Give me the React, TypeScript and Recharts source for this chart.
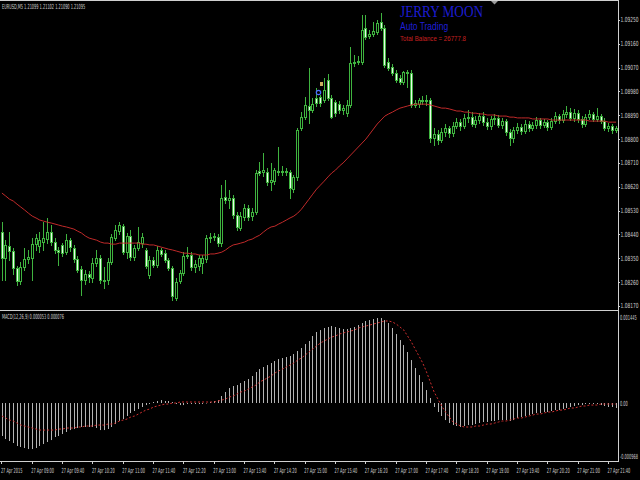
import { ComposedChart, Bar, Line, XAxis, YAxis } from 'recharts';

// EURUSD M5, 27 Apr 2015, 163 bars
const open = [
  1.08449, 1.08350, 1.08396, 1.08377, 1.08313, 1.08263, 1.08316, 1.08347, 1.08350, 1.08403,
  1.08396, 1.08411, 1.08422, 1.08449, 1.08411, 1.08381, 1.08400, 1.08373, 1.08418, 1.08388,
  1.08347, 1.08309, 1.08267, 1.08290, 1.08275, 1.08331, 1.08350, 1.08267, 1.08267, 1.08335,
  1.08426, 1.08452, 1.08471, 1.08373, 1.08434, 1.08354, 1.08388, 1.08407, 1.08381, 1.08286,
  1.08343, 1.08324, 1.08381, 1.08369, 1.08343, 1.08313, 1.08199, 1.08263, 1.08294, 1.08358,
  1.08362, 1.08316, 1.08320, 1.08331, 1.08347, 1.08426, 1.08430, 1.08430, 1.08407, 1.08581,
  1.08570, 1.08577, 1.08513, 1.08464, 1.08505, 1.08539, 1.08509, 1.08524, 1.08679, 1.08675,
  1.08675, 1.08638, 1.08641, 1.08679, 1.08675, 1.08679, 1.08675, 1.08611, 1.08657, 1.08842,
  1.08883, 1.08925, 1.08910, 1.08955, 1.08959, 1.08948, 1.09023, 1.08955, 1.08940, 1.08932,
  1.08910, 1.08898, 1.08929, 1.09087, 1.09091, 1.09091, 1.09220, 1.09190, 1.09197, 1.09205,
  1.09242, 1.09220, 1.09091, 1.09072, 1.09050, 1.09031, 1.09016, 1.09053, 1.09050, 1.08929,
  1.08932, 1.08948, 1.08944, 1.08948, 1.08804, 1.08819, 1.08796, 1.08827, 1.08842, 1.08823,
  1.08849, 1.08864, 1.08849, 1.08880, 1.08883, 1.08857, 1.08872, 1.08887, 1.08864, 1.08849,
  1.08876, 1.08880, 1.08853, 1.08868, 1.08827, 1.08804, 1.08834, 1.08846, 1.08830, 1.08857,
  1.08842, 1.08853, 1.08872, 1.08853, 1.08864, 1.08846, 1.08868, 1.08887, 1.08872, 1.08895,
  1.08902, 1.08880, 1.08898, 1.08876, 1.08857, 1.08883, 1.08895, 1.08876, 1.08887, 1.08868,
  1.08842, 1.08849, 1.08834,
];

const close = [
  1.08350, 1.08400, 1.08377, 1.08313, 1.08263, 1.08316, 1.08347, 1.08354, 1.08403, 1.08426,
  1.08418, 1.08426, 1.08449, 1.08411, 1.08381, 1.08373, 1.08369, 1.08418, 1.08392, 1.08347,
  1.08305, 1.08267, 1.08290, 1.08278, 1.08331, 1.08350, 1.08267, 1.08263, 1.08335, 1.08430,
  1.08456, 1.08475, 1.08373, 1.08434, 1.08354, 1.08388, 1.08411, 1.08430, 1.08320, 1.08343,
  1.08324, 1.08381, 1.08366, 1.08343, 1.08313, 1.08207, 1.08260, 1.08294, 1.08358, 1.08362,
  1.08316, 1.08328, 1.08350, 1.08350, 1.08426, 1.08430, 1.08434, 1.08407, 1.08577, 1.08570,
  1.08577, 1.08513, 1.08468, 1.08509, 1.08539, 1.08505, 1.08524, 1.08672, 1.08672, 1.08683,
  1.08638, 1.08645, 1.08683, 1.08675, 1.08679, 1.08675, 1.08615, 1.08657, 1.08834, 1.08883,
  1.08929, 1.08910, 1.08932, 1.08936, 1.08936, 1.08985, 1.08955, 1.08883, 1.08898, 1.08910,
  1.08917, 1.08929, 1.09087, 1.09091, 1.09095, 1.09212, 1.09186, 1.09197, 1.09208, 1.09239,
  1.09220, 1.09080, 1.09069, 1.09050, 1.09023, 1.09016, 1.09053, 1.09050, 1.08929, 1.08936,
  1.08948, 1.08944, 1.08948, 1.08804, 1.08819, 1.08796, 1.08827, 1.08842, 1.08823, 1.08849,
  1.08864, 1.08849, 1.08880, 1.08883, 1.08857, 1.08872, 1.08887, 1.08864, 1.08849, 1.08876,
  1.08880, 1.08853, 1.08868, 1.08827, 1.08804, 1.08834, 1.08846, 1.08830, 1.08857, 1.08842,
  1.08853, 1.08872, 1.08853, 1.08864, 1.08846, 1.08868, 1.08887, 1.08872, 1.08895, 1.08902,
  1.08880, 1.08898, 1.08876, 1.08857, 1.08883, 1.08895, 1.08876, 1.08887, 1.08868, 1.08842,
  1.08849, 1.08834, 1.08842,
];

const high = [
  1.08486, 1.08418, 1.08449, 1.08388, 1.08320, 1.08335, 1.08388, 1.08381, 1.08426, 1.08441,
  1.08449, 1.08486, 1.08502, 1.08475, 1.08426, 1.08392, 1.08407, 1.08441, 1.08426, 1.08400,
  1.08358, 1.08320, 1.08305, 1.08301, 1.08350, 1.08381, 1.08362, 1.08316, 1.08350, 1.08441,
  1.08475, 1.08486, 1.08479, 1.08445, 1.08456, 1.08400, 1.08468, 1.08445, 1.08388, 1.08358,
  1.08354, 1.08396, 1.08388, 1.08381, 1.08350, 1.08320, 1.08275, 1.08305, 1.08373, 1.08392,
  1.08373, 1.08343, 1.08362, 1.08362, 1.08437, 1.08445, 1.08445, 1.08441, 1.08626, 1.08645,
  1.08607, 1.08588, 1.08524, 1.08524, 1.08554, 1.08551, 1.08539, 1.08683, 1.08713, 1.08747,
  1.08691, 1.08710, 1.08691, 1.08770, 1.08698, 1.08691, 1.08683, 1.08664, 1.08842, 1.08902,
  1.08959, 1.09069, 1.08955, 1.08993, 1.08967, 1.09031, 1.09046, 1.08967, 1.08948, 1.08944,
  1.08929, 1.08948, 1.09148, 1.09118, 1.09114, 1.09269, 1.09269, 1.09212, 1.09242, 1.09250,
  1.09276, 1.09231, 1.09106, 1.09084, 1.09061, 1.09042, 1.09057, 1.09061, 1.09061, 1.08948,
  1.08955, 1.08963, 1.08967, 1.08955, 1.08842, 1.08834, 1.08842, 1.08857, 1.08849, 1.08864,
  1.08880, 1.08876, 1.08895, 1.08910, 1.08902, 1.08887, 1.08898, 1.08902, 1.08880, 1.08887,
  1.08895, 1.08891, 1.08880, 1.08876, 1.08838, 1.08846, 1.08861, 1.08857, 1.08872, 1.08868,
  1.08864, 1.08883, 1.08880, 1.08876, 1.08872, 1.08880, 1.08902, 1.08895, 1.08910, 1.08925,
  1.08917, 1.08914, 1.08910, 1.08887, 1.08895, 1.08910, 1.08902, 1.08917, 1.08895, 1.08880,
  1.08861, 1.08857, 1.08849,
];

const low = [
  1.08267, 1.08267, 1.08343, 1.08290, 1.08248, 1.08252, 1.08305, 1.08331, 1.08267, 1.08381,
  1.08373, 1.08381, 1.08407, 1.08400, 1.08369, 1.08324, 1.08358, 1.08366, 1.08377, 1.08335,
  1.08297, 1.08210, 1.08252, 1.08260, 1.08260, 1.08320, 1.08256, 1.08237, 1.08252, 1.08328,
  1.08418, 1.08441, 1.08366, 1.08350, 1.08343, 1.08343, 1.08381, 1.08392, 1.08313, 1.08275,
  1.08316, 1.08316, 1.08358, 1.08335, 1.08305, 1.08192, 1.08192, 1.08256, 1.08286, 1.08350,
  1.08305, 1.08297, 1.08305, 1.08294, 1.08335, 1.08411, 1.08418, 1.08396, 1.08396, 1.08558,
  1.08539, 1.08502, 1.08456, 1.08456, 1.08494, 1.08494, 1.08494, 1.08517, 1.08664, 1.08660,
  1.08626, 1.08607, 1.08630, 1.08664, 1.08664, 1.08664, 1.08577, 1.08600, 1.08645, 1.08834,
  1.08876, 1.08861, 1.08902, 1.08925, 1.08925, 1.08940, 1.08948, 1.08880, 1.08887, 1.08898,
  1.08895, 1.08887, 1.08921, 1.09076, 1.09084, 1.09084, 1.09178, 1.09182, 1.09190, 1.09197,
  1.09212, 1.09072, 1.09061, 1.09042, 1.09016, 1.09008, 1.09008, 1.08997, 1.08921, 1.08921,
  1.08921, 1.08932, 1.08929, 1.08789, 1.08777, 1.08781, 1.08789, 1.08811, 1.08808, 1.08811,
  1.08842, 1.08834, 1.08842, 1.08864, 1.08849, 1.08846, 1.08861, 1.08853, 1.08838, 1.08838,
  1.08857, 1.08846, 1.08842, 1.08815, 1.08777, 1.08789, 1.08823, 1.08819, 1.08823, 1.08830,
  1.08834, 1.08842, 1.08842, 1.08846, 1.08834, 1.08838, 1.08861, 1.08861, 1.08864, 1.08883,
  1.08872, 1.08868, 1.08864, 1.08846, 1.08849, 1.08876, 1.08868, 1.08868, 1.08861, 1.08834,
  1.08830, 1.08823, 1.08827,
];

// red moving average on the price window
const ma = [
  1.08596, 1.08585, 1.08573, 1.08566, 1.08554, 1.08543, 1.08532, 1.08520, 1.08509, 1.08502,
  1.08494, 1.08490, 1.08486, 1.08483, 1.08479, 1.08475, 1.08471, 1.08468, 1.08464, 1.08460,
  1.08452, 1.08445, 1.08434, 1.08426, 1.08422, 1.08418, 1.08411, 1.08407, 1.08407, 1.08403,
  1.08403, 1.08407, 1.08407, 1.08407, 1.08407, 1.08407, 1.08407, 1.08403, 1.08403, 1.08400,
  1.08400, 1.08396, 1.08392, 1.08388, 1.08384, 1.08381, 1.08377, 1.08373, 1.08369, 1.08369,
  1.08366, 1.08366, 1.08362, 1.08362, 1.08362, 1.08366, 1.08366, 1.08369, 1.08373, 1.08381,
  1.08392, 1.08400, 1.08403, 1.08407, 1.08411, 1.08418, 1.08422, 1.08430, 1.08437, 1.08449,
  1.08460, 1.08468, 1.08471, 1.08479, 1.08486, 1.08494, 1.08502, 1.08509, 1.08520, 1.08535,
  1.08554, 1.08573, 1.08592, 1.08611, 1.08626, 1.08641, 1.08657, 1.08672, 1.08683, 1.08698,
  1.08710, 1.08725, 1.08740, 1.08755, 1.08770, 1.08785, 1.08800, 1.08819, 1.08838, 1.08857,
  1.08872, 1.08887, 1.08895, 1.08902, 1.08910, 1.08917, 1.08921, 1.08925, 1.08929, 1.08932,
  1.08932, 1.08932, 1.08932, 1.08929, 1.08925, 1.08921, 1.08917, 1.08917, 1.08914, 1.08910,
  1.08906, 1.08906, 1.08902, 1.08902, 1.08898, 1.08898, 1.08895, 1.08895, 1.08891, 1.08891,
  1.08891, 1.08887, 1.08887, 1.08887, 1.08883, 1.08883, 1.08880, 1.08880, 1.08880, 1.08880,
  1.08876, 1.08876, 1.08876, 1.08876, 1.08876, 1.08872, 1.08872, 1.08872, 1.08872, 1.08872,
  1.08872, 1.08872, 1.08872, 1.08872, 1.08872, 1.08868, 1.08868, 1.08868, 1.08868, 1.08868,
  1.08864, 1.08864, 1.08864,
];

const macdHist = [
  -0.000554, -0.000605, -0.000638, -0.000672, -0.000722, -0.000739, -0.000756, -0.000773, -0.000773, -0.000756,
  -0.000722, -0.000689, -0.000655, -0.000622, -0.000571, -0.000554, -0.000521, -0.000487, -0.000454, -0.000437,
  -0.000420, -0.000403, -0.000403, -0.000403, -0.000403, -0.000420, -0.000454, -0.000454, -0.000437, -0.000403,
  -0.000353, -0.000302, -0.000269, -0.000218, -0.000168, -0.000134, -0.000101, -0.000067, -0.000034, -0.000017,
  0.000017, 0.000034, 0.000050, 0.000034, 0.000034, 0.000017, -0.000017, -0.000034, -0.000034, -0.000017,
  -0.000017, -0.000017, -0.000017, -0.000017, -0.000008, 0.000017, 0.000034, 0.000050, 0.000118, 0.000185,
  0.000252, 0.000286, 0.000302, 0.000336, 0.000370, 0.000403, 0.000454, 0.000521, 0.000571, 0.000605,
  0.000638, 0.000672, 0.000706, 0.000739, 0.000756, 0.000773, 0.000790, 0.000823, 0.000874, 0.000924,
  0.000991, 0.001042, 0.001126, 0.001193, 0.001226, 0.001260, 0.001277, 0.001294, 0.001277, 0.001260,
  0.001243, 0.001243, 0.001260, 0.001277, 0.001310, 0.001344, 0.001378, 0.001394, 0.001411, 0.001428,
  0.001428, 0.001394, 0.001344, 0.001260, 0.001159, 0.001058, 0.000974, 0.000857, 0.000722, 0.000588,
  0.000470, 0.000353, 0.000218, 0.000084, -0.000067, -0.000151, -0.000218, -0.000286, -0.000336, -0.000370,
  -0.000386, -0.000403, -0.000386, -0.000370, -0.000370, -0.000353, -0.000336, -0.000319, -0.000319, -0.000302,
  -0.000302, -0.000286, -0.000286, -0.000286, -0.000302, -0.000286, -0.000252, -0.000235, -0.000218, -0.000202,
  -0.000185, -0.000168, -0.000168, -0.000151, -0.000151, -0.000134, -0.000118, -0.000118, -0.000101, -0.000084,
  -0.000067, -0.000050, -0.000034, -0.000034, -0.000017, -0.000017, -0.000017, -0.000017, -0.000034, -0.000050,
  -0.000067, -0.000067, -0.000084,
];

const macdSignal = [
  -0.000218, -0.000252, -0.000286, -0.000302, -0.000336, -0.000370, -0.000386, -0.000403, -0.000420, -0.000437,
  -0.000454, -0.000454, -0.000454, -0.000454, -0.000454, -0.000437, -0.000437, -0.000420, -0.000420, -0.000420,
  -0.000403, -0.000403, -0.000386, -0.000386, -0.000386, -0.000370, -0.000370, -0.000370, -0.000353, -0.000353,
  -0.000336, -0.000302, -0.000286, -0.000269, -0.000235, -0.000218, -0.000185, -0.000151, -0.000118, -0.000101,
  -0.000067, -0.000050, -0.000034, -0.000017, -0.000017, 0.000000, 0.000000, 0.000017, 0.000017, 0.000017,
  0.000017, 0.000017, 0.000017, 0.000017, 0.000017, 0.000017, 0.000017, 0.000034, 0.000050, 0.000067,
  0.000101, 0.000118, 0.000151, 0.000185, 0.000202, 0.000235, 0.000269, 0.000302, 0.000353, 0.000386,
  0.000420, 0.000454, 0.000504, 0.000538, 0.000571, 0.000605, 0.000638, 0.000672, 0.000722, 0.000756,
  0.000806, 0.000857, 0.000907, 0.000958, 0.001008, 0.001042, 0.001075, 0.001109, 0.001126, 0.001159,
  0.001176, 0.001193, 0.001210, 0.001226, 0.001260, 0.001277, 0.001294, 0.001310, 0.001327, 0.001344,
  0.001361, 0.001378, 0.001378, 0.001361, 0.001327, 0.001277, 0.001226, 0.001126, 0.001025, 0.000907,
  0.000790, 0.000672, 0.000521, 0.000353, 0.000185, 0.000067, -0.000050, -0.000151, -0.000235, -0.000319,
  -0.000353, -0.000386, -0.000403, -0.000403, -0.000403, -0.000386, -0.000386, -0.000370, -0.000353, -0.000353,
  -0.000336, -0.000319, -0.000302, -0.000302, -0.000286, -0.000269, -0.000252, -0.000252, -0.000235, -0.000218,
  -0.000202, -0.000185, -0.000185, -0.000168, -0.000151, -0.000151, -0.000134, -0.000118, -0.000118, -0.000101,
  -0.000084, -0.000084, -0.000067, -0.000050, -0.000050, -0.000034, -0.000034, -0.000034, -0.000017, -0.000017,
  -0.000017, -0.000017, -0.000017,
];

// one label every 8 bars (40 minutes)
const timeLabels = [
  '27 Apr 2015', '27 Apr 09:00', '27 Apr 09:40', '27 Apr 10:20', '27 Apr 11:00', '27 Apr 11:40',
  '27 Apr 12:20', '27 Apr 13:00', '27 Apr 13:40', '27 Apr 14:20', '27 Apr 15:00', '27 Apr 15:40',
  '27 Apr 16:20', '27 Apr 17:00', '27 Apr 17:40', '27 Apr 18:20', '27 Apr 19:00', '27 Apr 19:40',
  '27 Apr 20:20', '27 Apr 21:00', '27 Apr 21:40',
];
const priceTicks = [
  1.0925, 1.0916, 1.0907, 1.0898, 1.0889, 1.088, 1.0871, 1.0862, 1.0853, 1.0844, 1.0835, 1.0826, 1.0817,
];
const macdTicks = [0.001445, 0, -0.000968];

const data = open.map((o, i) => ({
  i,
  open: o,
  high: high[i],
  low: low[i],
  close: close[i],
  range: [low[i], high[i]],
  ma: ma[i],
  hist: macdHist[i],
  signal: macdSignal[i],
}));

const WICK = '#3fb33f';
const BEAR = '#e8fbe8';
const AXIS = '#d0d0d0';
const TINY = "'DejaVu Sans', sans-serif";

// tiny MT4-style text: normal glyph height, squeezed horizontally
const Squeezed = ({ x, y, sx, size = 7, fill = AXIS, family = TINY, children }: any) => (
  <g transform={`translate(${x},${y}) scale(${sx},1)`}>
    <text x={0} y={0} fontSize={size} fontFamily={family} fill={fill}>
      {children}
    </text>
  </g>
);

const Candle = (props: any) => {
  const { x, y, width, height, index } = props;
  const d = props.payload && props.payload.open !== undefined ? props.payload : data[index];
  const top = Math.min(y, y + height);
  const h = Math.abs(height);
  const span = d.high - d.low;
  const toPx = (v: number) => (span > 0 ? top + ((d.high - v) / span) * h : top);
  const cx = Math.floor(x + width / 2);
  const oy = Math.round(toPx(d.open));
  const cy = Math.round(toPx(d.close));
  const bTop = Math.min(oy, cy);
  const bBot = Math.max(oy, cy);
  const bull = d.close > d.open;
  return (
    <g>
      <line x1={cx + 0.5} x2={cx + 0.5} y1={Math.round(top)} y2={Math.round(top + h) + 1} stroke={WICK} />
      <rect x={cx - 0.5} y={bTop + 0.5} width={2} height={bBot - bTop} fill={bull ? '#000' : BEAR} stroke={WICK} />
    </g>
  );
};

const HistLine = (props: any) => {
  const { x, y, width, height } = props;
  const cx = Math.floor(x + width / 2) + 0.5;
  return <line x1={cx} x2={cx} y1={y} y2={y + height} stroke="#b4b4b4" />;
};

const PriceTick = (props: any) => {
  const { x, y, payload } = props;
  const ly = Math.round(y) + 0.5;
  return (
    <g>
      <line x1={x} x2={x + 2} y1={ly} y2={ly} stroke={AXIS} />
      <Squeezed x={x + 2.5} y={y + 2.5} sx={0.62}>
        {payload.value.toFixed(5)}
      </Squeezed>
    </g>
  );
};

const MacdTick = (props: any) => {
  const { x, y, payload } = props;
  const v = payload.value;
  const label = v === 0 ? '0.00' : v.toFixed(6);
  const dy = v < 0 ? -2 : 2.5;
  return (
    <Squeezed x={x + 2} y={y + dy} sx={0.5}>
      {label}
    </Squeezed>
  );
};

const TimeTick = (props: any) => {
  const { x, y, payload } = props;
  const label = timeLabels[Math.round(payload.value / 8)];
  const tx = Math.floor(x) + 0.5;
  return (
    <g>
      <line x1={tx} x2={tx} y1={y} y2={y + 3} stroke={AXIS} />
      <Squeezed x={x - 1} y={y + 12} sx={0.5}>
        {label}
      </Squeezed>
    </g>
  );
};

export default function App() {
  return (
    <div style={{ position: 'fixed', left: 0, top: 0, width: 640, height: 480, background: '#000', overflow: 'hidden' }}>
      <div style={{ position: 'absolute', left: 0, top: 0 }}>
        <ComposedChart width={640} height={311} data={data} margin={{ top: 2, right: 0, bottom: 2, left: 0 }} barCategoryGap={0}>
          <XAxis dataKey="i" type="category" hide />
          <YAxis
            orientation="right"
            width={22}
            domain={[1.08158, 1.09318]}
            allowDataOverflow
            ticks={priceTicks}
            interval={0}
            tick={<PriceTick />}
            tickSize={0}
            tickMargin={0}
            axisLine={false}
            tickLine={false}
          />
          <Bar dataKey="range" shape={<Candle />} isAnimationActive={false} />
          <Line dataKey="ma" type="linear" stroke="#c02a2a" strokeWidth={1} dot={false} activeDot={false} isAnimationActive={false} />
        </ComposedChart>
      </div>

      <div style={{ position: 'absolute', left: 0, top: 311 }}>
        <ComposedChart width={640} height={169} data={data} margin={{ top: 0, right: 0, bottom: 0, left: 0 }} barCategoryGap={0}>
          <XAxis
            dataKey="i"
            type="category"
            height={19}
            ticks={timeLabels.map((_, k) => k * 8)}
            interval={0}
            tick={<TimeTick />}
            tickSize={0}
            tickMargin={0}
            axisLine={false}
            tickLine={false}
          />
          <YAxis
            orientation="right"
            width={22}
            domain={[-0.000974, 0.001546]}
            allowDataOverflow
            ticks={macdTicks}
            interval={0}
            tick={<MacdTick />}
            tickSize={0}
            tickMargin={0}
            axisLine={false}
            tickLine={false}
          />
          <Bar dataKey="hist" shape={<HistLine />} isAnimationActive={false} />
          <Line dataKey="signal" type="linear" stroke="#cc2e2e" strokeWidth={1} strokeDasharray="2 2" dot={false} activeDot={false} isAnimationActive={false} />
        </ComposedChart>
      </div>

      <svg width={640} height={480} style={{ position: 'absolute', left: 0, top: 0, pointerEvents: 'none' }}>
        <line x1={0} x2={619} y1={0.5} y2={0.5} stroke={AXIS} />
        <line x1={618.5} x2={618.5} y1={0} y2={462} stroke={AXIS} />
        <line x1={0} x2={619} y1={310.5} y2={310.5} stroke={AXIS} />
        <line x1={0} x2={619} y1={461.5} y2={461.5} stroke={AXIS} />
        <polygon points="491,1 498,1 494.5,4.5" fill="#9a9a9a" />
        <rect x={320} y={82} width={3} height={4} fill="#c8b060" />
        <circle cx={318.5} cy={92.5} r={2.2} fill="none" stroke="#4a6cff" strokeWidth={1.2} />
        <Squeezed x={2} y={9} sx={0.5}>
          EURUSD,M5  1.21099 1.21102 1.21090 1.21095
        </Squeezed>
        <Squeezed x={2} y={319} sx={0.5}>
          MACD(12,26,9) 0.000053 0.000076
        </Squeezed>
        <Squeezed x={400} y={17} sx={0.78} size={17} fill="#1c1cd0" family="'Liberation Serif', 'DejaVu Serif', serif">
          JERRY MOON
        </Squeezed>
        <Squeezed x={400} y={30} sx={0.85} size={10} fill="#1f1fd8" family="'Liberation Sans', Arial, sans-serif">
          Auto Trading
        </Squeezed>
        <Squeezed x={400} y={41} sx={0.82} size={7.5} fill="#c82020" family="'Liberation Sans', Arial, sans-serif">
          Total Balance = 26777.8
        </Squeezed>
      </svg>
    </div>
  );
}
